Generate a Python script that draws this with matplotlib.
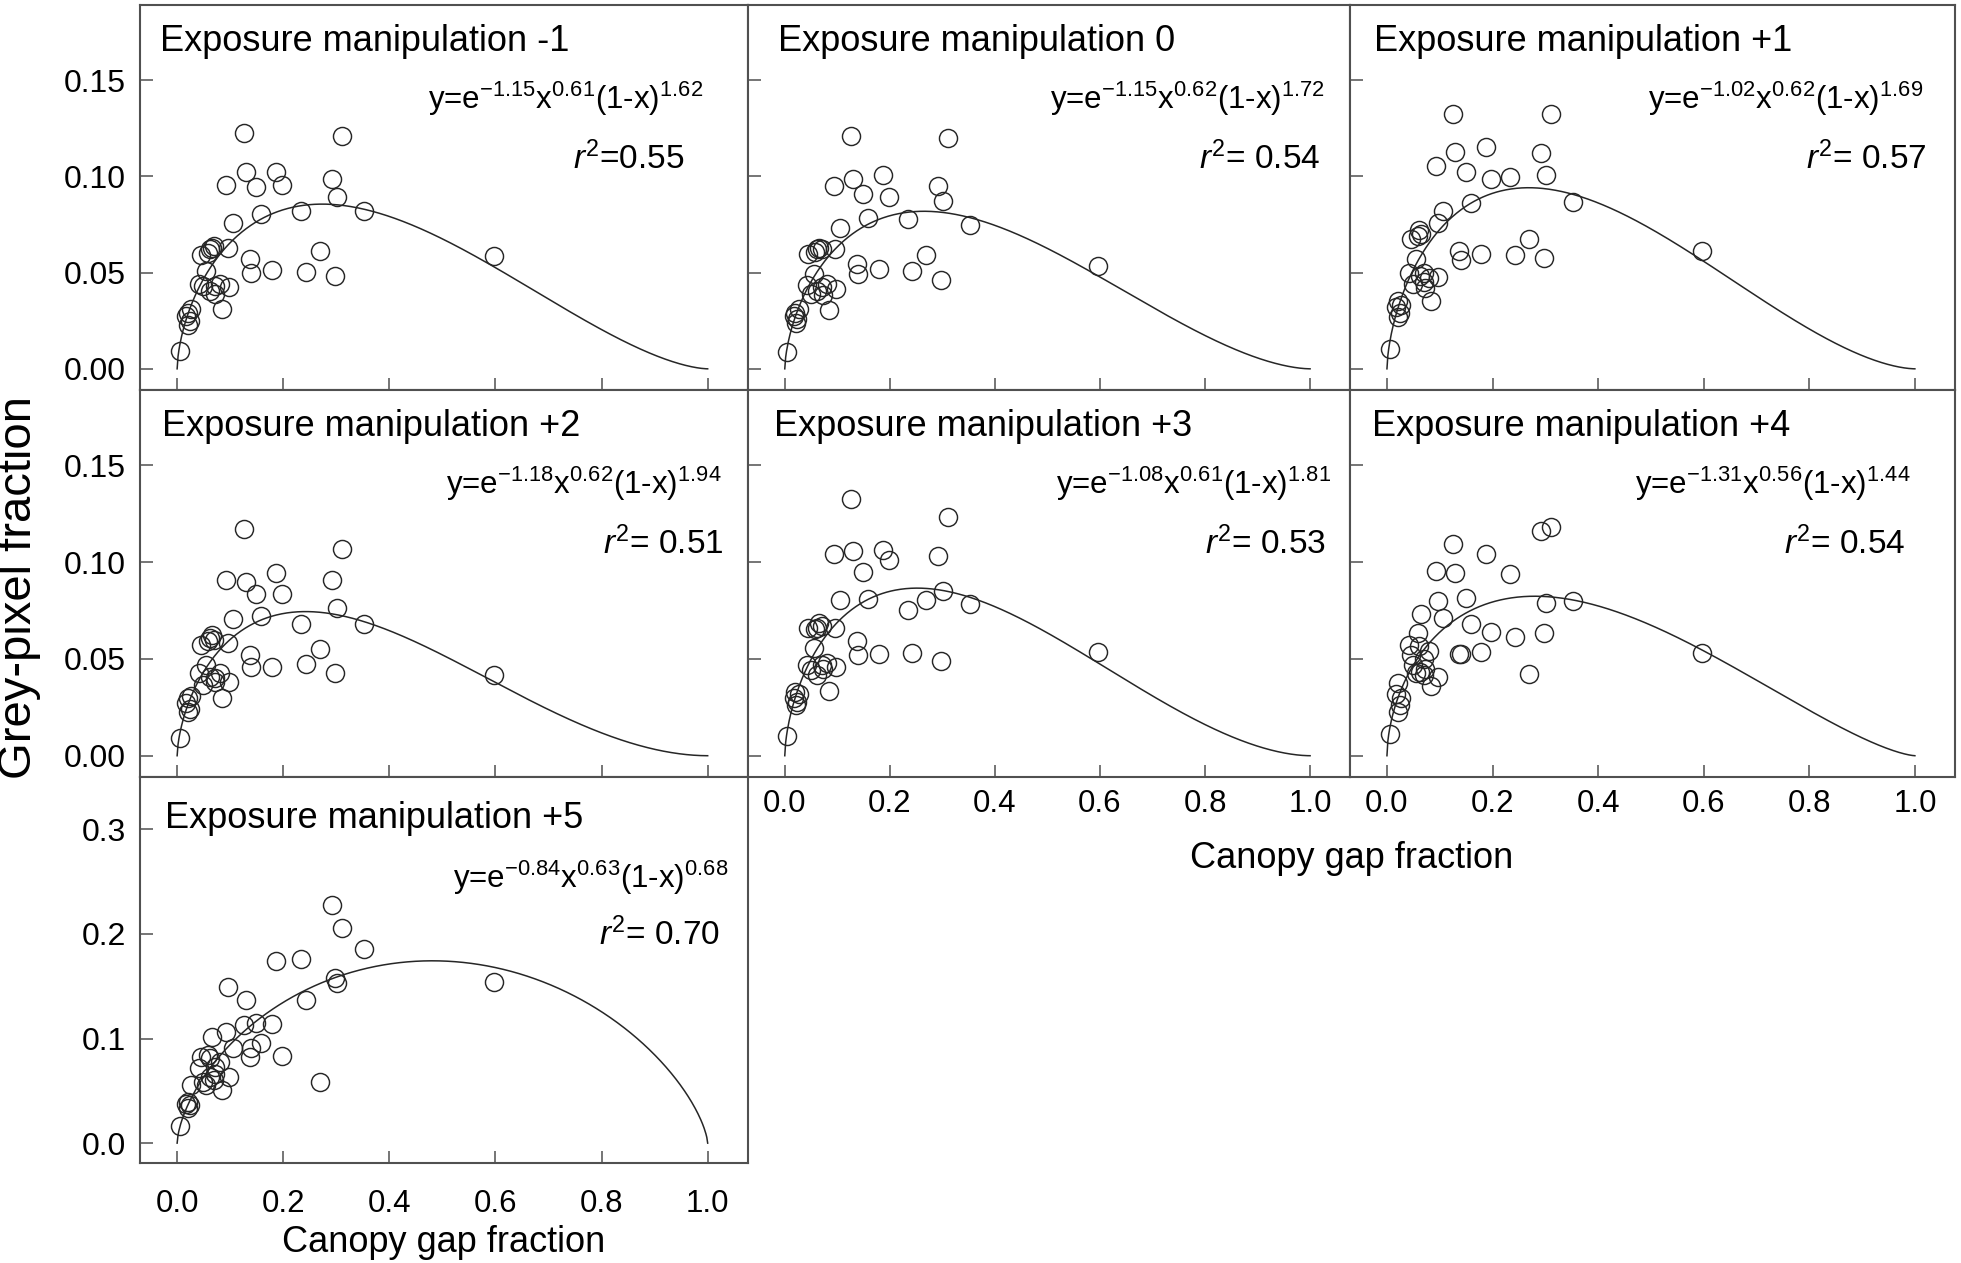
import numpy as np
import matplotlib
matplotlib.use('Agg')
import matplotlib.pyplot as plt

plt.rcParams['font.family'] = ['Liberation Sans', 'DejaVu Sans']
plt.rcParams['mathtext.fontset'] = 'custom'
plt.rcParams['mathtext.rm'] = 'Liberation Sans'
plt.rcParams['mathtext.it'] = 'Liberation Sans:italic'
plt.rcParams['mathtext.default'] = 'regular'

# canopy gap fraction (same photos in every panel)
gap = [0.005, 0.017, 0.020, 0.021, 0.024, 0.027, 0.042, 0.045, 0.049, 0.055,
       0.058, 0.061, 0.062, 0.065, 0.070, 0.071, 0.072, 0.080, 0.084, 0.093,
       0.096, 0.097, 0.106, 0.126, 0.129, 0.137, 0.140, 0.149, 0.159, 0.179,
       0.187, 0.198, 0.234, 0.243, 0.269, 0.291, 0.297, 0.301, 0.311, 0.353,
       0.597]

# grey-pixel fraction for each exposure manipulation
grey_m1 = [0.009, 0.0275, 0.029, 0.023, 0.025, 0.031, 0.044, 0.059, 0.043, 0.051,
           0.060, 0.062, 0.0405, 0.063, 0.064, 0.043, 0.039, 0.044, 0.031, 0.0956,
           0.063, 0.0423, 0.0757, 0.1226, 0.1025, 0.057, 0.050, 0.0947, 0.0804, 0.0514,
           0.1024, 0.0954, 0.0818, 0.0504, 0.0613, 0.0984, 0.0482, 0.089, 0.1209, 0.0818,
           0.0587]
grey_0 = [0.0088, 0.0275, 0.029, 0.024, 0.026, 0.031, 0.0437, 0.0596, 0.0388, 0.0492,
          0.0605, 0.0622, 0.0405, 0.063, 0.0622, 0.0423, 0.0385, 0.044, 0.0305, 0.0948,
          0.0622, 0.0414, 0.0734, 0.1207, 0.0986, 0.0544, 0.0495, 0.0908, 0.0783, 0.0516,
          0.1005, 0.0894, 0.078, 0.0506, 0.0591, 0.0951, 0.0461, 0.087, 0.1199, 0.0748,
          0.0535]
grey_p1 = [0.0102, 0.0319, 0.0353, 0.027, 0.029, 0.033, 0.050, 0.0674, 0.044, 0.057,
           0.069, 0.072, 0.0483, 0.070, 0.045, 0.050, 0.042, 0.047, 0.0353, 0.1055,
           0.076, 0.0475, 0.082, 0.1323, 0.1124, 0.0613, 0.0565, 0.102, 0.0864, 0.0596,
           0.115, 0.0986, 0.0994, 0.0592, 0.0674, 0.1119, 0.0575, 0.1006, 0.1323, 0.0868,
           0.0613]
grey_p2 = [0.009, 0.0273, 0.030, 0.0226, 0.0244, 0.031, 0.0426, 0.0574, 0.0365, 0.047,
           0.0592, 0.0609, 0.0409, 0.0626, 0.060, 0.040, 0.038, 0.0426, 0.0296, 0.091,
           0.0583, 0.0383, 0.0705, 0.117, 0.0896, 0.0522, 0.0461, 0.0835, 0.0722, 0.0456,
           0.0943, 0.0835, 0.0682, 0.0475, 0.0553, 0.0908, 0.043, 0.0762, 0.1068, 0.0682,
           0.0418]
grey_p3 = [0.0104, 0.030, 0.033, 0.026, 0.028, 0.032, 0.047, 0.066, 0.0444, 0.0557,
           0.0653, 0.066, 0.0418, 0.0687, 0.067, 0.047, 0.045, 0.048, 0.0334, 0.1044,
           0.066, 0.0461, 0.0806, 0.1326, 0.1056, 0.0592, 0.0522, 0.0948, 0.0809, 0.0525,
           0.1061, 0.1014, 0.0752, 0.0531, 0.0804, 0.103, 0.049, 0.0849, 0.1235, 0.0783,
           0.0534]
grey_p4 = [0.011, 0.0317, 0.0374, 0.0226, 0.026, 0.0296, 0.0574, 0.0522, 0.047, 0.0426,
           0.0635, 0.0566, 0.0435, 0.0731, 0.0418, 0.050, 0.045, 0.054, 0.0362, 0.0954,
           0.080, 0.0409, 0.0713, 0.1093, 0.0945, 0.0525, 0.0528, 0.0813, 0.0682, 0.0536,
           0.1044, 0.064, 0.094, 0.0614, 0.0421, 0.1162, 0.0635, 0.0788, 0.1183, 0.0797,
           0.0531]
grey_p5 = [0.0165, 0.0375, 0.0396, 0.0334, 0.036, 0.0556, 0.0716, 0.0827, 0.0588, 0.0556,
           0.0843, 0.081, 0.0636, 0.1017, 0.060, 0.0731, 0.066, 0.078, 0.0509, 0.1065,
           0.1495, 0.0636, 0.0907, 0.1129, 0.1368, 0.0827, 0.0907, 0.1145, 0.0954, 0.1135,
           0.174, 0.0837, 0.176, 0.1368, 0.0589, 0.228, 0.1575, 0.1533, 0.2061, 0.186,
           0.154]

titles = ['Exposure manipulation -1', 'Exposure manipulation 0', 'Exposure manipulation +1',
          'Exposure manipulation +2', 'Exposure manipulation +3', 'Exposure manipulation +4',
          'Exposure manipulation +5']
series = [grey_m1, grey_0, grey_p1, grey_p2, grey_p3, grey_p4, grey_p5]

# fitted model y = e^a x^b (1-x)^c
fit_a = ['-1.15', '-1.15', '-1.02', '-1.18', '-1.08', '-1.31', '-0.84']
fit_b = ['0.61', '0.62', '0.62', '0.62', '0.61', '0.56', '0.63']
fit_c = ['1.62', '1.72', '1.69', '1.94', '1.81', '1.44', '0.68']
r2_text = ['=0.55', '= 0.54', '= 0.57', '= 0.51', '= 0.53', '= 0.54', '= 0.70']

# layout (pixels of the 1961x1263 figure)
W, H = 1961, 1263
col_edges = [140, 748, 1350, 1955]
row_edges = [5, 390, 777, 1163]
title_x = [0.033, 0.05, 0.04, 0.037, 0.043, 0.036, 0.041]
eq_x = [0.926, 0.958, 0.947, 0.957, 0.968, 0.927, 0.967]
r2_x = [0.896, 0.95, 0.952, 0.959, 0.96, 0.917, 0.954]

ink = '#262626'
frame = '#505050'
fig = plt.figure(figsize=(W / 100, H / 100), dpi=100)

xs = np.linspace(0, 1, 600)

for i in range(7):
    r, c = divmod(i, 3)
    x0, x1 = col_edges[c], col_edges[c + 1]
    y0, y1 = row_edges[r], row_edges[r + 1]
    ax = fig.add_axes([x0 / W, 1 - y1 / H, (x1 - x0) / W, (y1 - y0) / H])

    a, b, cc = float(fit_a[i]), float(fit_b[i]), float(fit_c[i])
    ax.plot(xs, np.exp(a) * xs ** b * (1 - xs) ** cc, color=ink, lw=1.1)
    ax.plot(gap, series[i], 'o', mfc='none', mec=ink, ms=13, mew=1.05)

    ax.set_xlim(-0.07, 1.076)
    ax.set_xticks([0, 0.2, 0.4, 0.6, 0.8, 1.0])
    if i == 6:
        ax.set_ylim(-0.019, 0.35)
        ax.set_yticks([0, 0.1, 0.2, 0.3])
        ax.set_yticklabels(['0.0', '0.1', '0.2', '0.3'])
    else:
        ax.set_ylim(-0.011, 0.189)
        ax.set_yticks([0, 0.05, 0.10, 0.15])
        ax.set_yticklabels(['0.00', '0.05', '0.10', '0.15'])
    if c != 0:
        ax.set_yticklabels([])
    if i in (4, 5, 6):
        ax.set_xticklabels(['0.0', '0.2', '0.4', '0.6', '0.8', '1.0'])
    else:
        ax.set_xticklabels([])

    ax.tick_params(direction='in', length=9, width=1.1, color=frame,
                   labelsize=23, top=False, right=False)
    ax.tick_params(axis='y', pad=10)
    ax.tick_params(axis='x', labelsize=22.5, pad=19 if i == 6 else 9)
    for s in ax.spines.values():
        s.set_linewidth(1.5)
        s.set_color(frame)

    ty = 0.868 if i == 6 else 0.88
    ey = 0.712 if i == 6 else 0.73
    ry = 0.565 if i == 6 else 0.575
    ax.text(title_x[i], ty, titles[i], transform=ax.transAxes, fontsize=26,
            ha='left', va='baseline')
    eq = 'y=e$^{' + fit_a[i] + '}$x$^{' + fit_b[i] + '}$(1-x)$^{' + fit_c[i] + '}$'
    ax.text(eq_x[i], ey, eq, transform=ax.transAxes, fontsize=22.5,
            ha='right', va='baseline')
    ax.text(r2_x[i], ry, '$\\mathit{r}^2$' + r2_text[i], transform=ax.transAxes,
            fontsize=24, ha='right', va='baseline')

fig.text(0.0097, 0.535, 'Grey-pixel fraction', rotation=90, ha='center',
         va='center', fontsize=34)
fig.text(1352 / W, 1 - 858 / H, 'Canopy gap fraction', ha='center',
         va='center', fontsize=26)
fig.text(444 / W, 1 - 1243 / H, 'Canopy gap fraction', ha='center',
         va='center', fontsize=26)

fig.savefig('out.png', dpi=100)
